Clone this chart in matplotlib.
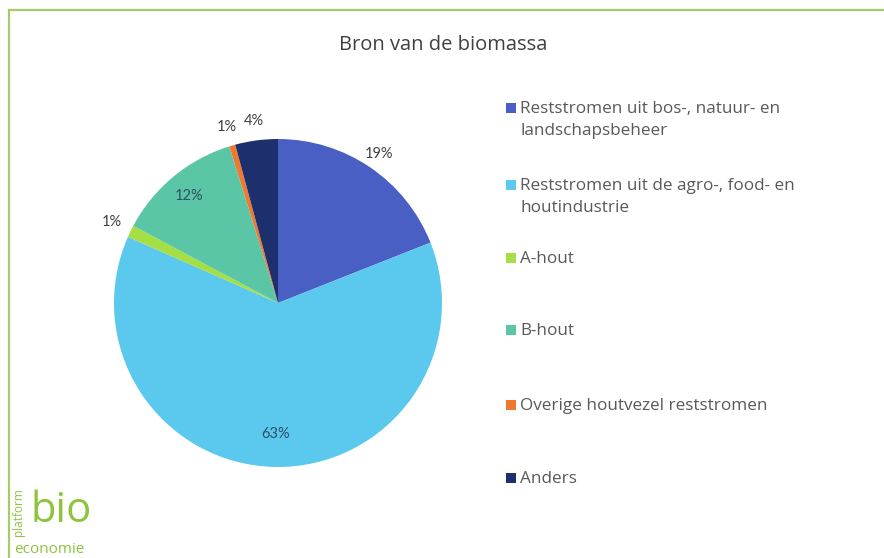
import numpy as np
import matplotlib
matplotlib.use("Agg")
import matplotlib.pyplot as plt
from matplotlib.patches import Rectangle
from matplotlib.lines import Line2D

title = "Bron van de biomassa"
categories = [
    "Reststromen uit bos-, natuur- en\nlandschapsbeheer",
    "Reststromen uit de agro-, food- en\nhoutindustrie",
    "A-hout",
    "B-hout",
    "Overige houtvezel reststromen",
    "Anders",
]
values = [19.0, 62.6, 1.2, 12.4, 0.6, 4.2]
pct_labels = ["19%", "63%", "1%", "12%", "1%", "4%"]
colors = ["#4A5FC4", "#5BC8EE", "#A6DE45", "#5AC6A6", "#EE7A32", "#1E2F6E"]
label_radius = [1.10, 0.80, 1.13, 0.85, 1.12, 1.12]

W, H = 884, 558
fig = plt.figure(figsize=(W / 100, H / 100), dpi=100)
fig.patch.set_facecolor("white")

# frame lines (green border top and left)
fig.add_artist(Line2D([9 / W, 1], [1 - 10 / H, 1 - 10 / H], color="#A5CC6A", lw=1.6))
fig.add_artist(Line2D([9 / W, 9 / W], [0, 1 - 10 / H], color="#A5CC6A", lw=1.6))

# pie
cx, cy, R = 278, 303, 164
ax = fig.add_axes([(cx - R) / W, (H - cy - R) / H, 2 * R / W, 2 * R / H])
wedges, _ = ax.pie(values, colors=colors, startangle=90, counterclock=False,
                   radius=1.0, wedgeprops=dict(linewidth=0))
ax.set_xlim(-1, 1)
ax.set_ylim(-1, 1)
ax.set_aspect("equal")
ax.axis("off")

for w, lab, rf in zip(wedges, pct_labels, label_radius):
    ang = np.deg2rad((w.theta1 + w.theta2) / 2)
    x, y = rf * np.cos(ang), rf * np.sin(ang)
    col = "#404040" if rf > 1 else "#2f4f66"
    ax.text(x, y, lab, ha="center", va="center", fontsize=10.5,
            color=col, family="Lato", clip_on=False)

# title
fig.text(443 / W, 1 - 45 / H, title, ha="center", va="center",
         fontsize=14.5, color="#404040", family="Open Sans")

# legend
legend_y = [108, 185, 258, 330, 405, 478]
for c, lab, yy in zip(colors, categories, legend_y):
    fig.add_artist(Rectangle((506 / W, 1 - (yy + 5) / H), 10 / W, 10 / H,
                             transform=fig.transFigure, facecolor=c, edgecolor="none"))
    fig.text(520 / W, 1 - (yy - 7) / H, lab, ha="left", va="top",
             fontsize=12.3, color="#595959", family="Open Sans", linespacing=1.5)

# logo approximation
fig.text(30 / W, 1 - 522 / H, "bio", ha="left", va="baseline",
         fontsize=30, color="#8CC43C", family="Open Sans")
fig.text(14 / W, 1 - 553 / H, "economie", ha="left", va="baseline",
         fontsize=11, color="#8CC43C", family="Open Sans")
fig.text(18 / W, 1 - 512 / H, "platform", ha="center", va="center", rotation=90,
         fontsize=8.5, color="#8CC43C", family="Open Sans")

fig.savefig("out.png", dpi=100)
